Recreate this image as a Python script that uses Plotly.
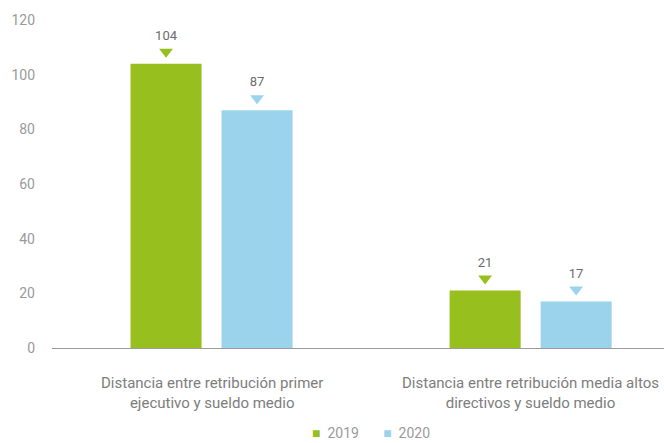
import plotly.graph_objects as go

categories = [
    "Distancia entre retribución primer<br>ejecutivo y sueldo medio",
    "Distancia entre retribución media altos<br>directivos y sueldo medio",
]
years = ["2019", "2020"]
values_2019 = [104, 21]
values_2020 = [87, 17]
y_ticks = [0, 20, 40, 60, 80, 100, 120]

GREEN = "#97BF1D"
BLUE = "#9BD3EC"
LABEL_GREY = "#7d7d7d"
VALUE_GREY = "#6b6b6b"
TICK_GREY = "#9a9a9a"
FONT = "Roboto"

x_pos = [0, 1]
bar_w = 0.2226
half_gap = 0.1426
offsets = [-half_gap - bar_w / 2, half_gap - bar_w / 2]
series = [values_2019, values_2020]
colors = [GREEN, BLUE]

fig = go.Figure()

for name, vals, col, off in zip(years, series, colors, offsets):
    fig.add_trace(go.Bar(
        x=x_pos, y=vals, name=name, marker=dict(color=col, line=dict(width=0)),
        width=bar_w, offset=off, hoverinfo="skip", showlegend=False,
    ))

# value markers: downward triangle with the number above it
for vals, col, off in zip(series, colors, offsets):
    fig.add_trace(go.Scatter(
        x=[x + off + bar_w / 2 for x in x_pos],
        y=[v + 4.4 for v in vals],
        mode="markers+text",
        marker=dict(symbol="triangle-down", size=12, color=col),
        text=[str(v) for v in vals],
        textposition="top center",
        textfont=dict(family=FONT, size=13, color=VALUE_GREY),
        showlegend=False, hoverinfo="skip", cliponaxis=False,
    ))

# category labels under the baseline
for x, label in zip(x_pos, categories):
    fig.add_annotation(
        x=x, y=0, xref="x", yref="y", yanchor="top", yshift=-24,
        text=label, showarrow=False, align="center",
        font=dict(family=FONT, size=15, color=LABEL_GREY),
    )

# compact legend row: coloured square followed by the year
gap = "&nbsp;" * 7
legend_text = gap.join(
    f'<span style="color:{c}">■</span>&nbsp;&nbsp;{y}' for c, y in zip(colors, years)
)
fig.add_annotation(
    x=0.521, y=-0.2590, xref="paper", yref="paper",
    xanchor="center", yanchor="middle", text=legend_text, showarrow=False,
    font=dict(family=FONT, size=14, color=TICK_GREY), borderpad=0,
)

fig.update_layout(
    width=664, height=443,
    margin=dict(l=52, r=0, t=20, b=95),
    paper_bgcolor="white", plot_bgcolor="white",
    barmode="overlay",
    showlegend=False,
    font=dict(family=FONT),
)

fig.update_xaxes(
    range=[-0.5, 1.418], showticklabels=False, showgrid=False, zeroline=False,
    showline=False, fixedrange=True,
)
fig.update_yaxes(
    range=[0, 120], tickvals=y_ticks, showgrid=False,
    zeroline=True, zerolinecolor="#9a9a9a", zerolinewidth=1,
    showline=False, ticks="", ticklabelstandoff=16,
    tickfont=dict(family=FONT, size=14, color=TICK_GREY),
)

fig.write_html("out.html")
